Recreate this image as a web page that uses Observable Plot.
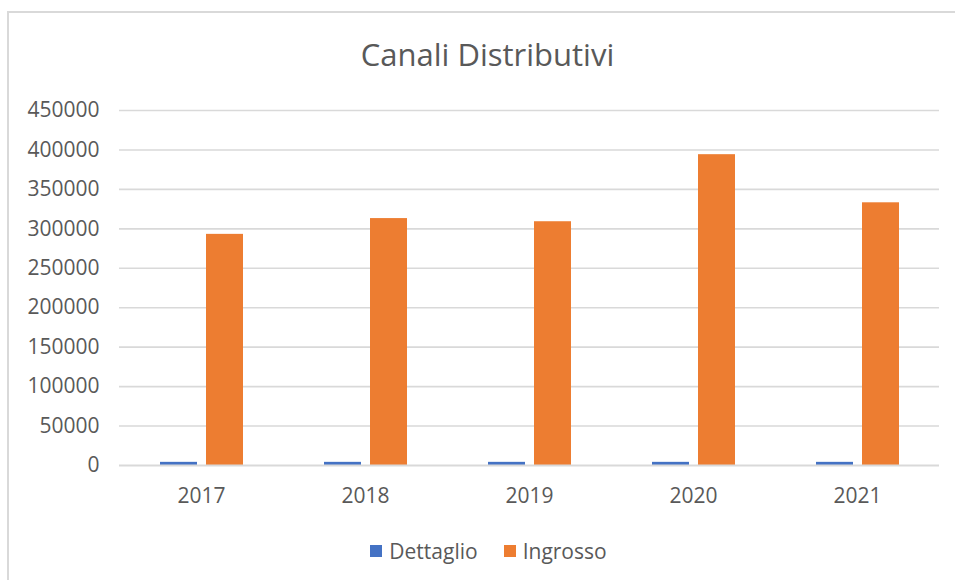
<!DOCTYPE html>
<html>
<head>
<meta charset="utf-8">
<script src="https://cdn.jsdelivr.net/npm/d3@7"></script>
<script src="https://cdn.jsdelivr.net/npm/@observablehq/plot@0.6"></script>
<style>
  html, body { margin: 0; padding: 0; background: #fff; }
  body { width: 955px; height: 580px; position: relative; overflow: hidden; font-family: "Open Sans", sans-serif; color: #595959; }
  #frame { position: absolute; left: 7px; top: 11px; width: 1000px; height: 700px; border-left: 2px solid #d9d9d9; border-top: 2px solid #d9d9d9; pointer-events: none; }
  #title { height: 95px; display: flex; align-items: center; justify-content: center; font-size: 31px; padding-top: 12px; padding-left: 20px; box-sizing: border-box; color: #595959; }
  #chart svg { display: block; }
  #legend { height: 55px; display: flex; align-items: center; justify-content: center; gap: 26px; font-size: 21px; color: #595959; padding-left: 22px; padding-bottom: 4px; box-sizing: border-box; }
  #legend .item { display: flex; align-items: center; gap: 7px; }
  #legend .sw { width: 12px; height: 12px; display: inline-block; }
</style>
</head>
<body>
<div id="frame"></div>
<div id="title">Canali Distributivi</div>
<div id="chart"></div>
<div id="legend"></div>
<script>
const years = ["2017", "2018", "2019", "2020", "2021"];
const series = ["Dettaglio", "Ingrosso"];
const colors = ["#4472C4", "#ED7D31"];
const dettaglio = [4000, 4000, 4000, 4000, 4000];
const ingrosso = [293000, 313000, 309000, 394000, 333000];
const yTicks = [0, 50000, 100000, 150000, 200000, 250000, 300000, 350000, 400000, 450000];

const data = [];
years.forEach((y, i) => {
  data.push({year: y, serie: "Dettaglio", value: dettaglio[i]});
  data.push({year: y, serie: "Ingrosso", value: ingrosso[i]});
});

const plot = Plot.plot({
  width: 955,
  height: 430,
  marginLeft: 118,
  marginRight: 15,
  marginTop: 15,
  marginBottom: 60,
  style: {fontFamily: "Open Sans, sans-serif", fontSize: "21px", color: "#595959", background: "#fff"},
  fx: {domain: years, padding: 0, label: null, axis: "bottom", tickSize: 0, tickPadding: 23},
  x: {domain: series, paddingInner: 0.2, paddingOuter: 0.88, axis: null},
  y: {domain: [0, 450000], ticks: yTicks, tickFormat: d3.format("d"), tickSize: 0, tickPadding: 20, label: null, grid: false},
  color: {domain: series, range: colors},
  marks: [
    Plot.ruleY(yTicks.filter(d => d > 0), {stroke: "#d9d9d9", strokeWidth: 1.6, strokeOpacity: 1}),
    Plot.barY(data, {fx: "year", x: "serie", y: "value", fill: "serie"}),
    Plot.ruleY([0], {stroke: "#d9d9d9", strokeWidth: 2, strokeOpacity: 1})
  ]
});
document.getElementById("chart").appendChild(plot);

const legend = document.getElementById("legend");
series.forEach((s, i) => {
  const item = document.createElement("div");
  item.className = "item";
  const sw = document.createElement("span");
  sw.className = "sw";
  sw.style.background = colors[i];
  const lab = document.createElement("span");
  lab.textContent = s;
  item.appendChild(sw);
  item.appendChild(lab);
  legend.appendChild(item);
});
</script>
</body>
</html>
